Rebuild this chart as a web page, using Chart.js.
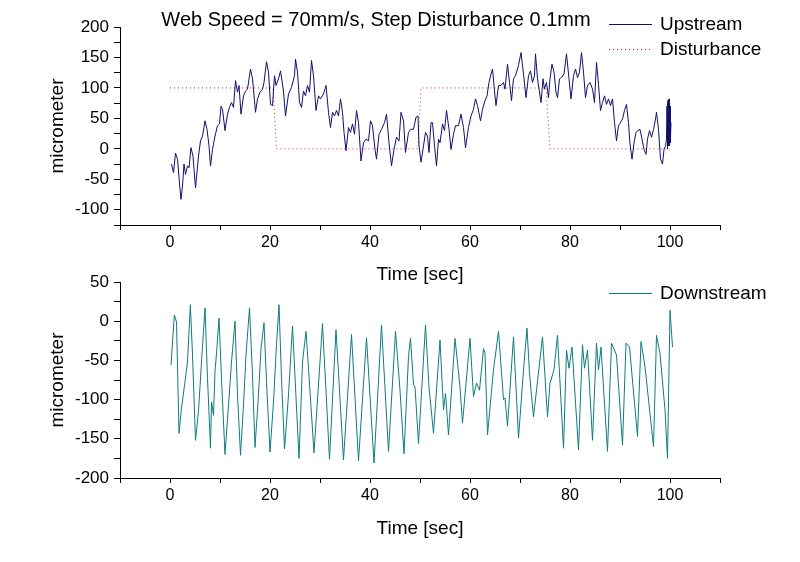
<!DOCTYPE html>
<html>
<head>
<meta charset="utf-8">
<script src="https://cdn.jsdelivr.net/npm/chart.js@4.4.1/dist/chart.umd.min.js"></script>
<style>
  html, body { margin: 0; padding: 0; background: #fff; }
  #wrap { position: relative; width: 800px; height: 562px; }
  #wrap canvas { position: absolute; left: 0; top: 0; }
</style>
</head>
<body>
<div id="wrap">
  <canvas id="upper" width="800" height="562"></canvas>
  <canvas id="lower" width="800" height="562"></canvas>
</div>
<script>
// time [sec] and micrometer values
var upTime = [0.3, 0.7, 1.1, 1.5, 2.0, 2.2, 2.5, 2.8, 3.1, 3.5, 3.8, 4.2, 4.6, 5.1, 5.7, 6.1, 6.5, 7.0, 7.4, 7.8,
  8.1, 8.5, 9.0, 9.5, 9.9, 10.2, 10.5, 11.0, 11.5, 11.9, 12.3, 12.7, 13.1, 13.5, 13.8, 14.2, 14.7, 15.1, 15.5, 16.1,
  16.5, 16.9, 17.1, 17.5, 18.0, 18.5, 18.8, 19.3, 19.7, 20.1, 20.5, 20.9, 21.2, 21.7, 22.1, 22.7, 23.1, 23.7, 24.3, 24.9,
  25.1, 25.5, 25.9, 26.3, 26.7, 27.1, 27.5, 27.9, 28.3, 28.7, 29.2, 29.7, 30.1, 30.7, 31.2, 31.7, 32.1, 32.5, 32.9, 33.3,
  33.7, 34.1, 34.5, 34.8, 35.2, 35.7, 36.1, 36.5, 36.9, 37.3, 37.7, 38.2, 38.7, 39.2, 39.7, 40.1, 40.5, 41.0, 41.3, 41.8,
  42.3, 42.9, 43.3, 43.8, 44.3, 44.8, 45.3, 45.8, 46.2, 46.7, 47.1, 47.7, 48.1, 48.7, 49.2, 49.6, 49.8, 50.2, 50.7, 51.1,
  51.5, 51.8, 52.2, 52.5, 52.9, 53.3, 53.7, 54.0, 54.5, 54.9, 55.3, 55.8, 56.2, 56.7, 57.1, 57.7, 58.2, 58.7, 59.1, 59.7,
  60.2, 60.7, 61.1, 61.5, 62.1, 62.5, 63.0, 63.4, 63.8, 64.2, 64.5, 64.9, 65.2, 65.7, 66.2, 66.7, 67.0, 67.5, 67.9, 68.3,
  68.7, 69.1, 69.7, 70.2, 70.7, 71.2, 71.7, 72.1, 72.5, 72.9, 73.1, 73.5, 74.2, 74.6, 74.9, 75.3, 75.7, 76.0, 76.4, 76.8,
  77.2, 77.5, 77.9, 78.3, 78.8, 79.3, 79.8, 80.2, 80.7, 81.1, 81.5, 81.9, 82.3, 82.7, 83.1, 83.5, 84.0, 84.5, 84.9, 85.3,
  85.7, 86.1, 86.5, 86.9, 87.3, 87.7, 88.1, 88.5, 88.9, 89.3, 89.7, 90.1, 90.5, 90.9, 91.3, 91.7, 92.0, 92.4, 92.8, 93.2,
  93.6, 94.0, 94.4, 94.8, 95.2, 95.5, 95.9, 96.3, 96.7, 97.1, 97.3, 97.7, 98.1, 98.5, 98.8, 99.1, 99.3, 99.4, 99.45, 99.5,
  99.55, 99.6, 99.65, 99.7, 99.75, 99.8, 99.85, 99.9, 99.95, 100.0, 100.05, 100.1, 100.15, 100.2];
var upstream = [-25, -39, -7, -17, -66, -83, -61, -25, -42, -28, -31, 2, -12, -64, -12, 13, 21, 46, 32, 5,
  -28, -1, 21, 38, 41, 70, 65, 30, 57, 68, 76, 68, 112, 93, 104, 57, 87, 95, 98, 131,
  115, 79, 60, 82, 93, 98, 109, 143, 126, 73, 71, 120, 104, 115, 128, 95, 54, 90, 101, 120,
  147, 126, 76, 68, 95, 87, 104, 93, 145, 120, 63, 87, 82, 90, 104, 60, 35, 60, 54, 63,
  54, 82, 60, 27, -3, 35, 27, 41, 24, 63, 43, -20, 10, 16, 13, 46, 38, -1, -17, 24,
  32, 43, 57, 10, -28, -1, 19, 13, 60, 46, -6, 27, 32, 32, 52, 54, 5, -22, 5, 27,
  21, -6, 43, 43, 5, -28, 16, 10, 41, 30, 63, 32, -1, 24, 38, 38, 57, 35, 2, 35,
  54, 65, 82, 71, 46, 65, 79, 87, 109, 123, 131, 95, 71, 104, 104, 109, 98, 139, 109, 79,
  115, 120, 137, 158, 123, 84, 120, 128, 109, 120, 156, 115, 76, 115, 98, 109, 84, 115, 139, 126,
  93, 84, 115, 117, 123, 156, 115, 82, 120, 131, 117, 126, 158, 126, 84, 104, 109, 98, 76, 142,
  106, 63, 76, 87, 73, 82, 71, 82, 43, 13, 38, 43, 49, 63, 73, 43, 8, -17, 10, 27,
  30, 32, 16, -1, -9, 16, 30, 19, 32, 49, 60, 32, -17, -25, -1, 5, 16, 70, 5, 75,
  0, 80, 5, 78, 8, 82, 10, 75, 5, 70, 10, 65, 20, 43];

var distTime = [0, 20.6, 21.3, 49.6, 50.2, 75.2, 76.0, 100];
var disturbance = [100, 100, 0, 0, 100, 100, 0, 0];

var downTime = [0.2, 0.87, 1.3, 1.8, 2.3, 3.0, 3.5, 4.07, 4.5, 5.1, 5.7, 6.3, 7.0, 7.5, 8.1, 8.3, 8.7, 9.0, 9.3, 9.8,
  10.3, 11.0, 11.7, 12.3, 13.0, 13.5, 14.1, 14.7, 15.2, 15.9, 16.5, 17.0, 17.7, 18.2, 18.8, 19.3, 20.0, 20.7, 21.3, 21.8,
  22.3, 22.9, 23.7, 24.5, 25.8, 26.5, 27.2, 27.7, 28.8, 30.5, 31.9, 33.2, 34.7, 36.3, 37.7, 39.3, 40.8, 42.3, 43.7, 45.1,
  46.0, 46.8, 47.7, 48.1, 48.7, 49.0, 49.7, 51.1, 51.8, 52.7, 54.0, 54.7, 55.1, 55.7, 57.0, 58.0, 58.5, 60.0, 60.7, 61.3,
  61.9, 62.7, 63.0, 63.5, 64.7, 65.7, 66.7, 67.0, 67.5, 68.7, 69.7, 70.7, 71.4, 71.9, 72.7, 74.5, 75.5, 76.0, 76.8, 77.5,
  78.7, 79.3, 79.8, 80.4, 81.7, 82.5, 82.9, 83.5, 84.5, 85.3, 85.7, 86.2, 87.5, 88.3, 89.3, 90.5, 91.2, 91.9, 93.5, 94.2,
  95.0, 96.7, 97.3, 98.0, 99.0, 99.5, 100.0, 100.5];
var downstream = [-56, 8, -1, -143, -111, -77, -52, 21, -43, -152, -115, -52, 17, -73, -162, -103, -120, -64, -41, 4,
  -73, -170, -107, -52, 0, -94, -171, -107, -43, 17, -69, -161, -94, -35, -2, -77, -167, -103, -30, 21,
  -73, -163, -94, -6, -175, -52, -13, -60, -168, -3, -176, -11, -177, -17, -178, -21, -181, -5, -166, -13,
  -88, -169, -45, -22, -81, -84, -156, -5, -84, -143, -24, -113, -92, -145, -22, -84, -130, -22, -96, -79,
  -88, -35, -41, -145, -62, -13, -100, -98, -134, -20, -149, -62, -9, -67, -122, -20, -122, -79, -62, -18,
  -162, -37, -60, -33, -164, -30, -60, -37, -152, -28, -62, -33, -166, -28, -43, -158, -28, -33, -147, -26,
  -58, -160, -18, -41, -113, -175, 14, -33];

var upperRange = [-125, 200];
var lowerRange = [-200, 50];

var FONT = '"Liberation Sans", Arial, sans-serif';
var NAVY = '#10106a';
var RED = '#d02030';
var TEAL = '#0e7c7a';

function points(xs, ys) {
  return xs.map(function (x, i) { return { x: x, y: ys[i] }; });
}

function makeScales(yRange, xHeight) {
  return {
    x: {
      type: 'linear', min: -10, max: 110,
      afterFit: function (s) { s.height = xHeight; },
      ticks: {
        stepSize: 10, autoSkip: false, maxRotation: 0, padding: 3, color: '#000',
        font: { family: FONT, size: 16 },
        callback: function (v) { return (v % 20 === 0 && v >= 0 && v <= 100) ? v : ''; }
      },
      grid: { drawOnChartArea: false, tickLength: 5, color: '#000' },
      border: { color: '#000' },
      title: { display: true, text: 'Time [sec]', color: '#000', padding: 0, font: { family: FONT, size: 19 } }
    },
    y: {
      min: yRange[0], max: yRange[1],
      afterFit: function (s) { s.width = 74; },
      ticks: {
        stepSize: 25, autoSkip: false, padding: 5, color: '#000',
        font: { family: FONT, size: 17 },
        callback: function (v) { return v % 50 === 0 ? v : ''; }
      },
      grid: { drawOnChartArea: false, tickLength: 6, color: '#000' },
      border: { color: '#000' },
      title: { display: true, text: 'micrometer', color: '#000', padding: 0, font: { family: FONT, size: 19 } }
    }
  };
}

function overlay(items, title) {
  return {
    id: 'overlay',
    afterDraw: function (chart) {
      var ctx = chart.ctx;
      ctx.save();
      ctx.fillStyle = '#000';
      ctx.textBaseline = 'middle';
      if (title) {
        ctx.font = '20px ' + FONT;
        ctx.textAlign = 'center';
        ctx.fillText(title, 376, 20);
      }
      ctx.font = '19px ' + FONT;
      ctx.textAlign = 'left';
      items.forEach(function (it) {
        ctx.strokeStyle = it.color;
        ctx.lineWidth = 1;
        ctx.setLineDash(it.dash || []);
        ctx.beginPath();
        ctx.moveTo(609, it.y + 0.5);
        ctx.lineTo(652, it.y + 0.5);
        ctx.stroke();
        ctx.fillText(it.label, 660, it.y + 1);
      });
      ctx.restore();
    }
  };
}

var common = {
  responsive: false, animation: false, events: [],
  plugins: { legend: { display: false }, tooltip: { enabled: false } },
  elements: { point: { radius: 0 }, line: { borderWidth: 1, tension: 0 } }
};

new Chart(document.getElementById('upper'), {
  type: 'line',
  data: {
    datasets: [
      { label: 'Upstream', data: points(upTime, upstream), borderColor: NAVY },
      { label: 'Disturbance', data: points(distTime, disturbance), borderColor: RED, borderDash: [1, 3] }
    ]
  },
  options: Object.assign({}, common, {
    layout: { padding: { left: 46, right: 80, top: 27, bottom: 276 } },
    scales: makeScales(upperRange, 61)
  }),
  plugins: [overlay([
    { label: 'Upstream', color: NAVY, y: 24 },
    { label: 'Disturbance', color: RED, y: 49, dash: [1, 3] }
  ], 'Web Speed = 70mm/s, Step Disturbance 0.1mm')]
});

new Chart(document.getElementById('lower'), {
  type: 'line',
  data: {
    datasets: [
      { label: 'Downstream', data: points(downTime, downstream), borderColor: TEAL }
    ]
  },
  options: Object.assign({}, common, {
    layout: { padding: { left: 46, right: 80, top: 282, bottom: 22 } },
    scales: makeScales(lowerRange, 62)
  }),
  plugins: [overlay([{ label: 'Downstream', color: TEAL, y: 293 }], null)]
});
</script>
</body>
</html>
